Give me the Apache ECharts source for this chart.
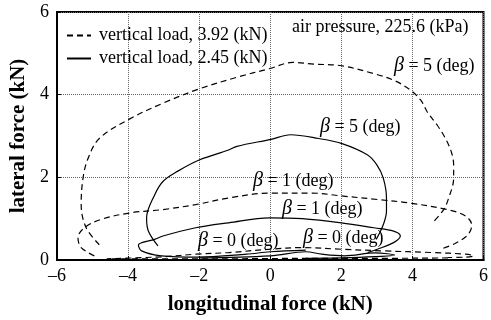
<!DOCTYPE html>
<html>
<head>
<meta charset="utf-8">
<script src="https://cdn.jsdelivr.net/npm/echarts@6/dist/echarts.min.js"></script>
<style>
html,body{margin:0;padding:0;background:#fff;}
#chart{width:491px;height:320px;}
</style>
</head>
<body>
<div id="chart"></div>
<script>
// ---- data (longitudinal force kN, lateral force kN) ----
const xTicks = [-6, -4, -2, 0, 2, 4, 6];
const yTicks = [0, 2, 4, 6];
const seriesNames = ['vertical load, 3.92 (kN)', 'vertical load, 2.45 (kN)'];

const heavyBeta5 = [[-4.81,0.37],[-5.18,0.78],[-5.32,1.34],[-5.27,1.97],[-5.13,2.45],[-4.81,2.94],[-3.94,3.42],[-3.0,3.8],[-2.0,4.14],[-0.94,4.42],[0.02,4.64],[0.62,4.78],[1.22,4.74],[2.0,4.70],[2.95,4.50],[3.50,4.34],[3.96,4.10],[4.24,3.86],[4.42,3.58],[4.70,3.26],[4.93,2.94],[5.10,2.60],[5.16,2.30],[5.16,1.98],[5.02,1.50],[4.88,1.22],[4.61,0.94]];
const heavyBeta1 = [[-4.95,0.10],[-5.32,0.30],[-5.41,0.54],[-5.23,0.78],[-4.77,0.98],[-3.94,1.14],[-3.02,1.22],[-2.10,1.34],[-1.17,1.50],[-0.02,1.62],[1.17,1.62],[2.0,1.55],[3.06,1.46],[3.9,1.38],[4.98,1.22],[5.5,1.06],[5.67,0.84],[5.55,0.60],[5.2,0.40],[4.79,0.26]];
const heavyBeta0 = [[5.0,0.05],[3.0,0.04],[1.0,0.04],[-1.0,0.03],[-3.0,0.03],[-4.6,0.03],[-3.0,0.08],[-2.1,0.14],[-1.17,0.18],[-0.02,0.26],[0.9,0.30],[2.0,0.26],[3.2,0.22],[4.58,0.18],[5.5,0.14],[5.72,0.10],[5.5,0.07],[5.0,0.06]];

const lightBeta5 = [[-3.16,0.34],[-3.43,0.70],[-3.48,1.02],[-3.25,1.58],[-3.02,1.90],[-2.6,2.15],[-2.0,2.42],[-1.17,2.66],[-0.94,2.75],[0.02,2.92],[0.57,3.03],[1.36,2.94],[2.0,2.82],[2.74,2.54],[3.0,2.30],[3.18,1.98],[3.27,1.50],[3.27,1.18],[3.2,0.90],[3.08,0.66],[2.98,0.50]];
const lightBeta1 = [[1.0,0.24],[0.0,0.20],[-0.67,0.14],[-2.05,0.07],[-3.06,0.10],[-3.62,0.22],[-3.71,0.36],[-3.25,0.50],[-3.02,0.58],[-2.10,0.78],[-1.17,0.90],[-0.02,1.02],[0.90,1.00],[2.0,0.90],[2.92,0.78],[3.47,0.70],[3.66,0.58],[3.47,0.42],[3.01,0.26],[2.74,0.18]];
const lightBeta0 = [[-2.0,0.05],[0.0,0.10],[1.0,0.20],[1.45,0.14],[2.09,0.10],[2.95,0.17],[3.5,0.12],[2.95,0.08],[2.0,0.05],[1.0,0.04]];

const serif = 'Liberation Serif';
const chart = echarts.init(document.getElementById('chart'), null, {renderer: 'canvas'});

function mkSeries(name, data, dashed) {
  return {
    name: name,
    type: 'line',
    data: data,
    symbol: 'none',
    smooth: 0.35,
    lineStyle: {color: '#000', width: 1.2, type: dashed ? [6, 4] : 'solid'},
    itemStyle: {color: '#000'},
    silent: true,
    animation: false,
    z: 5
  };
}

function fmt(v) { return String(v).replace('-', '\u2013'); }

function betaLabel(txt, x, y) {
  return {
    type: 'text', left: x, top: y, z: 20,
    style: {
      text: '{b|β} = ' + txt + ' (deg)',
      rich: {b: {fontFamily: serif, fontStyle: 'italic', fontSize: 20, fill: '#000'}},
      font: '18px "Liberation Serif"', fill: '#000'
    }
  };
}

const option = {
  backgroundColor: '#fff',
  animation: false,
  grid: {left: 57, right: 1, top: 12, bottom: 57.5, show: true, borderColor: '#000', borderWidth: 2, containLabel: false},
  legend: {
    orient: 'vertical', left: 66, top: 25, padding: 0,
    itemWidth: 24, itemHeight: 10, itemGap: 2,
    selectedMode: false,
    itemStyle: {opacity: 0},
    textStyle: {fontFamily: serif, fontSize: 18, color: '#000', lineHeight: 21, padding: [0, 0, 0, 3]},
    data: seriesNames
  },
  xAxis: {
    type: 'value', min: xTicks[0], max: xTicks[xTicks.length - 1], interval: 2,
    name: 'longitudinal force (kN)', nameLocation: 'middle', nameGap: 34,
    nameTextStyle: {fontFamily: serif, fontWeight: 'bold', fontSize: 21, color: '#000'},
    axisLine: {show: true, onZero: false, lineStyle: {color: '#000', width: 2}},
    axisTick: {show: true, inside: true, length: 4, lineStyle: {color: '#000'}},
    axisLabel: {fontFamily: serif, fontSize: 18, color: '#000', margin: 7, formatter: fmt},
    splitLine: {show: true, lineStyle: {color: '#666', type: 'dotted', width: 1}}
  },
  yAxis: {
    type: 'value', min: yTicks[0], max: yTicks[yTicks.length - 1], interval: 2,
    name: 'lateral force (kN)', nameLocation: 'middle', nameGap: 25,
    nameTextStyle: {fontFamily: serif, fontWeight: 'bold', fontSize: 21, color: '#000'},
    axisLine: {show: true, onZero: false, lineStyle: {color: '#000', width: 2}},
    axisTick: {show: true, inside: true, length: 4, lineStyle: {color: '#000'}},
    axisLabel: {fontFamily: serif, fontSize: 18, color: '#000', margin: 8, formatter: fmt},
    splitLine: {show: true, lineStyle: {color: '#666', type: 'dotted', width: 1}}
  },
  series: [
    mkSeries(seriesNames[0], heavyBeta5, true),
    mkSeries(seriesNames[0], heavyBeta1, true),
    mkSeries(seriesNames[0], heavyBeta0, true),
    mkSeries(seriesNames[1], lightBeta5, false),
    mkSeries(seriesNames[1], lightBeta1, false),
    mkSeries(seriesNames[1], lightBeta0, false)
  ],
  graphic: [
    {type: 'text', left: 292, top: 18, z: 20, style: {text: 'air pressure, 225.6 (kPa)', font: '18px "Liberation Serif"', fill: '#000'}},
    betaLabel('5', 394, 56),
    betaLabel('5', 320, 117),
    betaLabel('1', 253, 171),
    betaLabel('1', 282, 199),
    betaLabel('0', 198, 231),
    betaLabel('0', 303, 228)
  ]
};
chart.setOption(option);
</script>
</body>
</html>
